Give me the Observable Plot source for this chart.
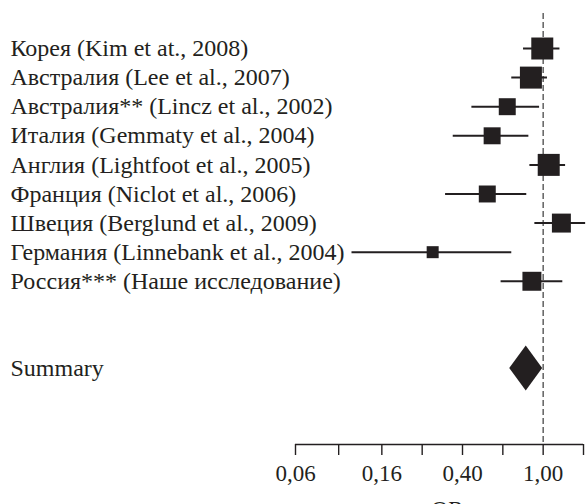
<!DOCTYPE html>
<html><head><meta charset="utf-8">
<script src="https://cdn.jsdelivr.net/npm/d3@7"></script>
<script src="https://cdn.jsdelivr.net/npm/@observablehq/plot@0.6"></script>
<style>body{margin:0;background:#fff}</style>
</head><body><div id="chart"></div>
<script>
// Forest plot data
const studies = [
  "Корея (Kim et at., 2008)",
  "Австралия (Lee et al., 2007)",
  "Австралия** (Lincz et al., 2002)",
  "Италия (Gemmaty et al., 2004)",
  "Англия (Lightfoot et al., 2005)",
  "Франция (Niclot et al., 2006)",
  "Швеция (Berglund et al., 2009)",
  "Германия (Linnebank et al., 2004)",
  "Россия*** (Наше исследование)"
];
const oddsRatio = [0.99, 0.87, 0.665, 0.56, 1.065, 0.53, 1.23, 0.285, 0.88];
const ciLow     = [0.80, 0.70, 0.445, 0.36, 0.86, 0.33, 0.91, 0.114, 0.62];
const ciHigh    = [1.21, 1.05, 0.96, 0.85, 1.29, 0.83, 1.62, 0.70, 1.25];
const weights   = [12.1, 12.1, 7.2, 7.2, 12.1, 7.2, 9.0, 3.6, 9.0];
const summaryLabel = "Summary";
const summaryOR = 0.825, summaryLow = 0.684, summaryHigh = 0.994;
const majorTicks = [0.06, 0.16, 0.40, 1.00];
const axisLabel = "OR";

// Build tables
const rows = studies.map((s, i) => ({label: s, row: i, or: oddsRatio[i], lo: ciLow[i], hi: ciHigh[i], w: weights[i]}));
const summaryRow = studies.length + 2;
const ticks = [];
majorTicks.forEach((t, i) => {
  ticks.push(t);
  const next = i < majorTicks.length - 1 ? majorTicks[i + 1] : t * 2.5;
  ticks.push(Math.sqrt(t * next));
});
const half = 0.775;
const diamond = [
  {x: summaryLow, y1: summaryRow, y2: summaryRow},
  {x: summaryOR, y1: summaryRow - half, y2: summaryRow + half},
  {x: summaryHigh, y1: summaryRow, y2: summaryRow}
];
const fmt = d => d3.format(".2f")(d).replace(".", ",");
const ink = "#231f20";
const axisRow = 13.61;

const chart = Plot.plot({
  width: 586,
  height: 504,
  marginTop: 0,
  marginBottom: 60,
  marginLeft: 310,
  marginRight: 2,
  style: {fontFamily: "'Liberation Serif', 'Times New Roman', serif", fontSize: "23px", color: ink, background: "#fff"},
  x: {type: "log", domain: [ticks[0], ticks[ticks.length - 1]], range: [295, 583]},
  y: {domain: [-1.65, axisRow], range: [0, 444], axis: null},
  r: {type: "sqrt", domain: [0, 12.1], range: [0, 12.41]},
  marks: [
    Plot.ruleX([1], {y1: -1.2, y2: axisRow, stroke: "#555", strokeWidth: 1.4, strokeDasharray: "6,3"}),
    Plot.ruleY([axisRow], {x1: ticks[0], x2: ticks[ticks.length - 1], stroke: ink, strokeWidth: 1.4}),
    Plot.axisX({ticks, tickFormat: d => majorTicks.includes(d) ? fmt(d) : "", tickSize: 11, tickPadding: 9,
      fontSize: 23, stroke: ink, strokeWidth: 1.4, label: axisLabel, labelAnchor: "center", labelArrow: "none", labelOffset: 72}),
    Plot.ruleY(rows, {y: "row", x1: "lo", x2: "hi", stroke: ink, strokeWidth: 2}),
    Plot.dot(rows, {y: "row", x: "or", r: "w", symbol: "square", fill: ink, stroke: null}),
    Plot.area(diamond, {x1: "x", y1: "y1", y2: "y2", fill: ink, curve: "linear"}),
    Plot.text(rows, {y: "row", text: "label", frameAnchor: "left", textAnchor: "start", dx: -300, fontSize: 24, fill: ink}),
    Plot.text([summaryLabel], {y: summaryRow, text: d => d, frameAnchor: "left", textAnchor: "start", dx: -300, fontSize: 24, fill: ink})
  ]
});
document.getElementById("chart").appendChild(chart);
</script>
</body></html>
